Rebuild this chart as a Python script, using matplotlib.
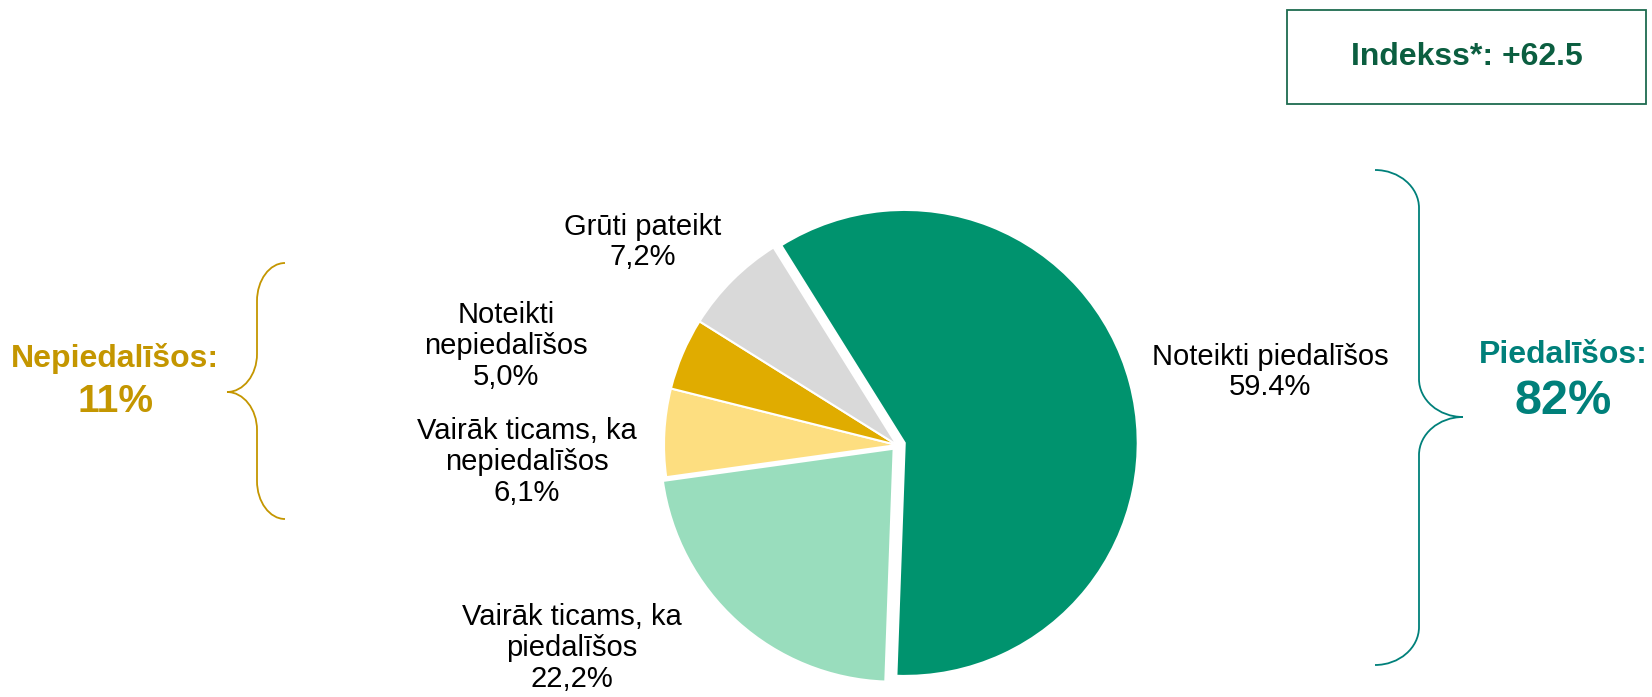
import matplotlib.pyplot as plt
from matplotlib.path import Path
from matplotlib.patches import PathPatch, Rectangle

plt.rcParams['font.family'] = ['Liberation Sans', 'DejaVu Sans']

# slices, clockwise from the top
categories = ['Noteikti piedalīšos', 'Vairāk ticams, ka\npiedalīšos',
              'Vairāk ticams, ka\nnepiedalīšos', 'Noteikti\nnepiedalīšos', 'Grūti pateikt']
values = [59.4, 22.2, 6.1, 5.0, 7.2]
value_labels = ['59.4%', '22,2%', '6,1%', '5,0%', '7,2%']
colors = ['#00936E', '#99DDBD', '#FDDE80', '#E0AC00', '#D9D9D9']

group_left = ('Nepiedalīšos:', '11%')
group_right = ('Piedalīšos:', '82%')
index_text = 'Indekss*: +62.5'

W, H = 1652, 697
fig = plt.figure(figsize=(W / 100, H / 100), dpi=100)
ax = fig.add_axes([0, 0, 1, 1])

# pie in pixel units (y measured from the bottom), explode also in pixels
cx, cy, r = 897, H - 445, 233
ax.pie(values, colors=colors, explode=[8, 5, 0, 0, 0], startangle=122, counterclock=False,
       center=(cx, cy), radius=r,
       wedgeprops=dict(edgecolor='white', linewidth=1.5))
ax.set_xlim(0, W)
ax.set_ylim(0, H)
ax.set_aspect('equal')
ax.axis('off')

# slice labels
label_pos = [(1270, 372), (572, 648), (527, 462), (506, 346), (643, 242)]
for cat, val, (x, y) in zip(categories, value_labels, label_pos):
    ax.text(x, H - y, cat + '\n' + val, ha='center', va='center',
            fontsize=21, color='black', linespacing=1.13)


def brace(x_end, x_mid, x_tip, y_top, y_tip, y_bot, color):
    # curly brace built from cubic curves; x_end at the ends, x_tip at the point
    k = 0.55
    dx1 = x_mid - x_end
    dx2 = x_tip - x_mid
    c = 38
    verts = [(x_end, y_top),
             (x_end + dx1 * k, y_top), (x_mid, y_top - c * (1 - k)), (x_mid, y_top - c),
             (x_mid, y_tip + c),
             (x_mid, y_tip + c * (1 - k)), (x_mid + dx2 * (1 - k), y_tip), (x_tip, y_tip),
             (x_mid + dx2 * (1 - k), y_tip), (x_mid, y_tip - c * (1 - k)), (x_mid, y_tip - c),
             (x_mid, y_bot + c),
             (x_mid, y_bot + c * (1 - k)), (x_end + dx1 * k, y_bot), (x_end, y_bot)]
    codes = [Path.MOVETO,
             Path.CURVE4, Path.CURVE4, Path.CURVE4,
             Path.LINETO,
             Path.CURVE4, Path.CURVE4, Path.CURVE4,
             Path.CURVE4, Path.CURVE4, Path.CURVE4,
             Path.LINETO,
             Path.CURVE4, Path.CURVE4, Path.CURVE4]
    ax.add_patch(PathPatch(Path(verts, codes), fill=False, edgecolor=color, lw=1.3))


gold = '#C49600'
teal = '#00807A'
brace(285, 257, 227, H - 263, H - 392, H - 519, gold)
brace(1375, 1419, 1463, H - 170, H - 417, H - 665, teal)

ax.text(115, H - 358, group_left[0], ha='center', va='center', fontsize=23,
        fontweight='bold', color=gold)
ax.text(116, H - 402, group_left[1], ha='center', va='center', fontsize=28,
        fontweight='bold', color=gold)
ax.text(1563, H - 355, group_right[0], ha='center', va='center', fontsize=23,
        fontweight='bold', color=teal)
ax.text(1563, H - 402, group_right[1], ha='center', va='center', fontsize=35,
        fontweight='bold', color=teal)

# index box
ax.add_patch(Rectangle((1287, H - 104), 1646 - 1287, 94, fill=False,
                       edgecolor='#1E6B4F', lw=1.3))
ax.text(1467, H - 57, index_text, ha='center', va='center', fontsize=23,
        fontweight='bold', color='#0B5E40')

fig.savefig('out.png', dpi=100, facecolor='white')
